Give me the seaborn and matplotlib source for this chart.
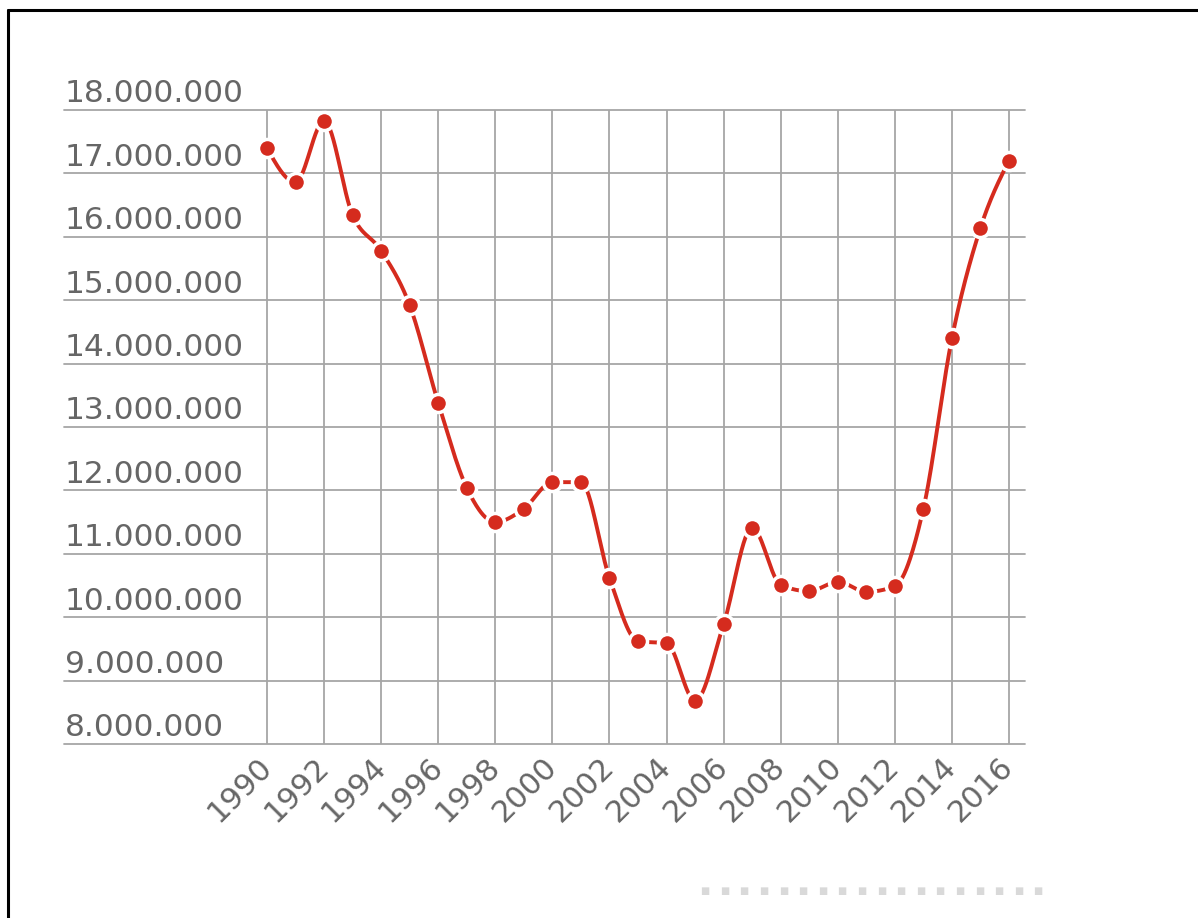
import numpy as np
import pandas as pd
import matplotlib
matplotlib.use("Agg")
import matplotlib.pyplot as plt
from matplotlib.lines import Line2D
import seaborn as sns

years = list(range(1990, 2017))
values = [17.40, 16.86, 17.83, 16.34, 15.78, 14.92, 13.38, 12.04, 11.50, 11.71,
          12.13, 12.13, 10.62, 9.62, 9.59, 8.68, 9.89, 11.41, 10.51, 10.41,
          10.56, 10.40, 10.49, 11.71, 14.40, 16.14, 17.20]
values = [v * 1e6 for v in values]
y_ticks = [8e6, 9e6, 10e6, 11e6, 12e6, 13e6, 14e6, 15e6, 16e6, 17e6, 18e6]
x_ticks = list(range(1990, 2017, 2))

RED = "#d52b1e"
GRID = "#a6a6a6"
LABEL = "#666666"


def monotone_curve(x, y, n=30):
    # monotone cubic (like d3 curveMonotoneX), only used for the drawn path
    x = np.asarray(x, float)
    y = np.asarray(y, float)
    h = np.diff(x)
    s = np.diff(y) / h
    t = np.zeros_like(y)
    for i in range(1, len(x) - 1):
        p = (s[i - 1] * h[i] + s[i] * h[i - 1]) / (h[i - 1] + h[i])
        t[i] = (np.sign(s[i - 1]) + np.sign(s[i])) * min(abs(s[i - 1]), abs(s[i]), 0.5 * abs(p))
    t[0] = (3 * s[0] - t[1]) / 2
    t[-1] = (3 * s[-1] - t[-2]) / 2
    xs, ys = [], []
    for i in range(len(x) - 1):
        u = np.linspace(0, 1, n, endpoint=False)
        h00 = 2 * u**3 - 3 * u**2 + 1
        h10 = u**3 - 2 * u**2 + u
        h01 = -2 * u**3 + 3 * u**2
        h11 = u**3 - u**2
        xs.append(x[i] + u * h[i])
        ys.append(h00 * y[i] + h10 * h[i] * t[i] + h01 * y[i + 1] + h11 * h[i] * t[i + 1])
    xs.append([x[-1]])
    ys.append([y[-1]])
    return np.concatenate(xs), np.concatenate(ys)


df = pd.DataFrame({"year": years, "value": values})
cx, cy = monotone_curve(df["year"], df["value"])
curve = pd.DataFrame({"year": cx, "value": cy})

sns.set_style("white")
plt.rcParams["font.family"] = ["DejaVu Sans"]

fig = plt.figure(figsize=(11.98, 9.18), dpi=100)
ax = fig.add_axes([64 / 1198, 174 / 918, (1025 - 64) / 1198, (744 - 110) / 918])
ax.set_xlim(1990 - 203 / 28.54, 2016 + 16 / 28.54)
ax.set_ylim(8e6, 18e6)

for v in y_ticks:
    ax.axhline(v, color=GRID, lw=1.3, zorder=1, clip_on=False)
    ax.annotate(f"{int(v):,}".replace(",", "."), xy=(0, v), xycoords=("axes fraction", "data"),
                xytext=(0.5, 5.5), textcoords="offset points", ha="left", va="baseline",
                fontsize=22.5, color=LABEL)
for yr in x_ticks:
    ax.axvline(yr, color=GRID, lw=1.3, zorder=1)

sns.lineplot(data=curve, x="year", y="value", color=RED, lw=2.8, ax=ax, zorder=3, sort=False)
ax.plot(df["year"], df["value"], ls="none", marker="o", ms=13, mfc=RED, mec="white",
        mew=2.5, zorder=4, clip_on=False)

for sp in ax.spines.values():
    sp.set_visible(False)
ax.set_yticks([])
ax.set_xticks(x_ticks)
ax.set_xticklabels([str(y) for y in x_ticks], rotation=45, ha="right", va="center",
                   rotation_mode="anchor", fontsize=22, color=LABEL)
ax.tick_params(axis="x", length=0, pad=13)
ax.set_xlabel("")
ax.set_ylabel("")

# frame lines around the page area
fig.add_artist(Line2D([8 / 1198, 8 / 1198], [0, 1 - 10 / 918], color="black", lw=2.2))
fig.add_artist(Line2D([8 / 1198, 1], [1 - 10 / 918, 1 - 10 / 918], color="black", lw=2.2))

# faded source note
for i in range(18):
    fig.text((705 + i * 19.6) / 1198, 1 - 891 / 918, "■", fontsize=7, color="#d9d9d9",
             ha="center", va="center")

fig.savefig("out.png", dpi=100)
